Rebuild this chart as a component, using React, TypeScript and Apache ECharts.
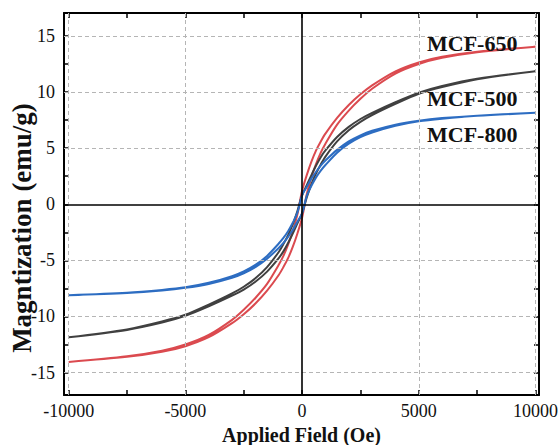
import React, { useEffect, useRef } from "react";
import * as echarts from "echarts";

// Applied field (Oe), descending order (upper branch goes this way)
const fieldOe = [10000, 7500, 6000, 5000, 4000, 3000, 2500, 2000, 1500, 1000, 800, 600, 400, 200, 0, -200, -400, -600, -800, -1000, -1500, -2000, -2500, -3000, -4000, -5000, -6000, -7500, -10000];

// Magnetization (emu/g): descending-field branch and ascending-field branch, at fieldOe
const mcf650Down = [14.05, 13.6, 13.15, 12.65, 11.85, 10.6, 9.8, 8.85, 7.7, 6.3, 5.6, 4.8, 3.8, 2.6, 1.2, -0.9, -2.4, -3.6, -4.6, -5.4, -7.1, -8.35, -9.4, -10.3, -11.65, -12.5, -13.05, -13.55, -14.05];
const mcf650Up = [14.05, 13.55, 13.05, 12.5, 11.65, 10.3, 9.4, 8.35, 7.1, 5.4, 4.6, 3.6, 2.4, 0.9, -1.2, -2.6, -3.8, -4.8, -5.6, -6.3, -7.7, -8.85, -9.8, -10.6, -11.85, -12.65, -13.15, -13.6, -14.05];

const mcf500Down = [11.85, 11.2, 10.55, 9.95, 9.1, 8.15, 7.6, 6.9, 6.0, 4.8, 4.2, 3.45, 2.6, 1.7, 0.8, -0.6, -1.8, -2.75, -3.55, -4.25, -5.6, -6.6, -7.35, -7.95, -8.95, -9.85, -10.45, -11.15, -11.85];
const mcf500Up = [11.85, 11.15, 10.45, 9.85, 8.95, 7.95, 7.35, 6.6, 5.6, 4.25, 3.55, 2.75, 1.8, 0.6, -0.8, -1.7, -2.6, -3.45, -4.2, -4.8, -6.0, -6.9, -7.6, -8.15, -9.1, -9.95, -10.55, -11.2, -11.85];

const mcf800Down = [8.15, 7.9, 7.68, 7.45, 7.1, 6.55, 6.15, 5.6, 4.85, 3.9, 3.45, 2.9, 2.3, 1.55, 0.8, -0.75, -1.65, -2.4, -3.0, -3.5, -4.6, -5.4, -5.98, -6.4, -7.0, -7.4, -7.63, -7.88, -8.1];
const mcf800Up = [8.15, 7.88, 7.63, 7.4, 7.0, 6.4, 5.98, 5.4, 4.6, 3.5, 3.0, 2.4, 1.65, 0.75, -0.8, -1.55, -2.3, -2.9, -3.45, -3.9, -4.85, -5.6, -6.15, -6.55, -7.1, -7.45, -7.68, -7.9, -8.1];

const xTickValues = [-10000, -7500, -5000, -2500, 0, 2500, 5000, 7500, 10000];
const xLabelValues = [-10000, -5000, 0, 5000, 10000];
const yTickValues = [-15, -12.5, -10, -7.5, -5, -2.5, 0, 2.5, 5, 7.5, 10, 12.5, 15];
const yLabelValues = [-15, -10, -5, 0, 5, 10, 15];
const xGridValues = [-10000, -5000, 5000, 10000];
const yGridValues = [-15, -10, -5, 5, 10, 15];

const sampleNames = ["MCF-650", "MCF-500", "MCF-800"];
const sampleColors = ["#db4a4f", "#404040", "#2d6dc2"];

function buildLoop(down: number[], up: number[]) {
  const pts: number[][] = [];
  for (let i = 0; i < fieldOe.length; i++) pts.push([fieldOe[i], down[i]]);
  for (let i = fieldOe.length - 1; i >= 0; i--) pts.push([fieldOe[i], up[i]]);
  return pts;
}

export default function App() {
  const ref = useRef<HTMLDivElement>(null);
  useEffect(() => {
    if (!ref.current) return;
    const chart = echarts.init(ref.current, undefined, { renderer: "svg" });
    const serif = "'Liberation Serif', 'Times New Roman', serif";
    const gridLine = { color: "#b5b5b5", width: 1, type: [4, 3] as any };
    const zeroLine = { color: "#000", width: 1.6, type: "solid" as any };
    const axisCommon = (isX: boolean, show: boolean) => ({
      type: "value",
      min: isX ? -10200 : -17,
      max: isX ? 10150 : 17.05,
      axisLine: { show: true, onZero: false, lineStyle: { color: "#000", width: 2 } },
      axisTick: {
        show: true,
        inside: true,
        length: 5,
        customValues: isX ? xTickValues : yTickValues,
        lineStyle: { color: "#000", width: 1.5 },
      },
      axisLabel: {
        show,
        customValues: isX ? xLabelValues : yLabelValues,
        formatter: (v: number) => String(v),
        fontFamily: serif,
        fontSize: 18,
        color: "#111",
        margin: isX ? 7 : 9,
      },
      splitLine: { show: false },
    });
    const loops = [
      buildLoop(mcf650Down, mcf650Up),
      buildLoop(mcf500Down, mcf500Up),
      buildLoop(mcf800Down, mcf800Up),
    ];
    const lineSeries = sampleNames.map((name, i) => ({
      name,
      type: "line",
      data: loops[i],
      smooth: 0.3,
      showSymbol: false,
      symbol: "none",
      z: 3,
      lineStyle: { color: sampleColors[i], width: 2 },
      silent: true,
    }));
    chart.setOption({
      animation: false,
      backgroundColor: "#fff",
      grid: { left: 64, right: 21, top: 13, bottom: 50, containLabel: false, outerBoundsMode: "none" },
      xAxis: [
        {
          ...axisCommon(true, true),
          position: "bottom",
          name: "Applied Field (Oe)",
          nameLocation: "middle",
          nameGap: 20,
          nameTextStyle: { fontFamily: serif, fontSize: 20, fontWeight: "bold", color: "#111" },
        },
        { ...axisCommon(true, false), position: "top" },
      ],
      yAxis: [
        { ...axisCommon(false, true), position: "left" },
        { ...axisCommon(false, false), position: "right" },
      ],
      graphic: [
        {
          type: "text",
          x: 22,
          y: 228,
          rotation: Math.PI / 2,
          style: {
            text: "Magntization (emu/g)",
            fontFamily: serif,
            fontSize: 27,
            fontWeight: "bold",
            fill: "#111",
            align: "center",
            verticalAlign: "middle",
          },
        },
        ...[
          { t: sampleNames[0], y: 43 },
          { t: sampleNames[1], y: 98 },
          { t: sampleNames[2], y: 134 },
        ].map((d) => ({
          type: "text",
          x: 427,
          y: d.y,
          z: 10,
          style: {
            text: d.t,
            fontFamily: serif,
            fontSize: 22,
            fontWeight: "bold",
            fill: "#111",
            align: "left",
            verticalAlign: "middle",
          },
        })),
      ],
      series: [
        {
          type: "line",
          data: [[0, 0]],
          showSymbol: false,
          symbol: "none",
          lineStyle: { width: 0 },
          z: 1,
          silent: true,
          markLine: {
            silent: true,
            symbol: ["none", "none"],
            label: { show: false },
            animation: false,
            data: [
              ...xGridValues.map((v) => ({ xAxis: v, lineStyle: gridLine })),
              ...yGridValues.map((v) => ({ yAxis: v, lineStyle: gridLine })),
              { xAxis: 0, lineStyle: zeroLine },
              { yAxis: 0, lineStyle: zeroLine },
            ],
          },
        },
        ...lineSeries,
      ],
    });
    return () => chart.dispose();
  }, []);
  return (
    <div
      ref={ref}
      style={{ position: "fixed", left: 0, top: 0, width: 560, height: 445, background: "#fff" }}
    />
  );
}
